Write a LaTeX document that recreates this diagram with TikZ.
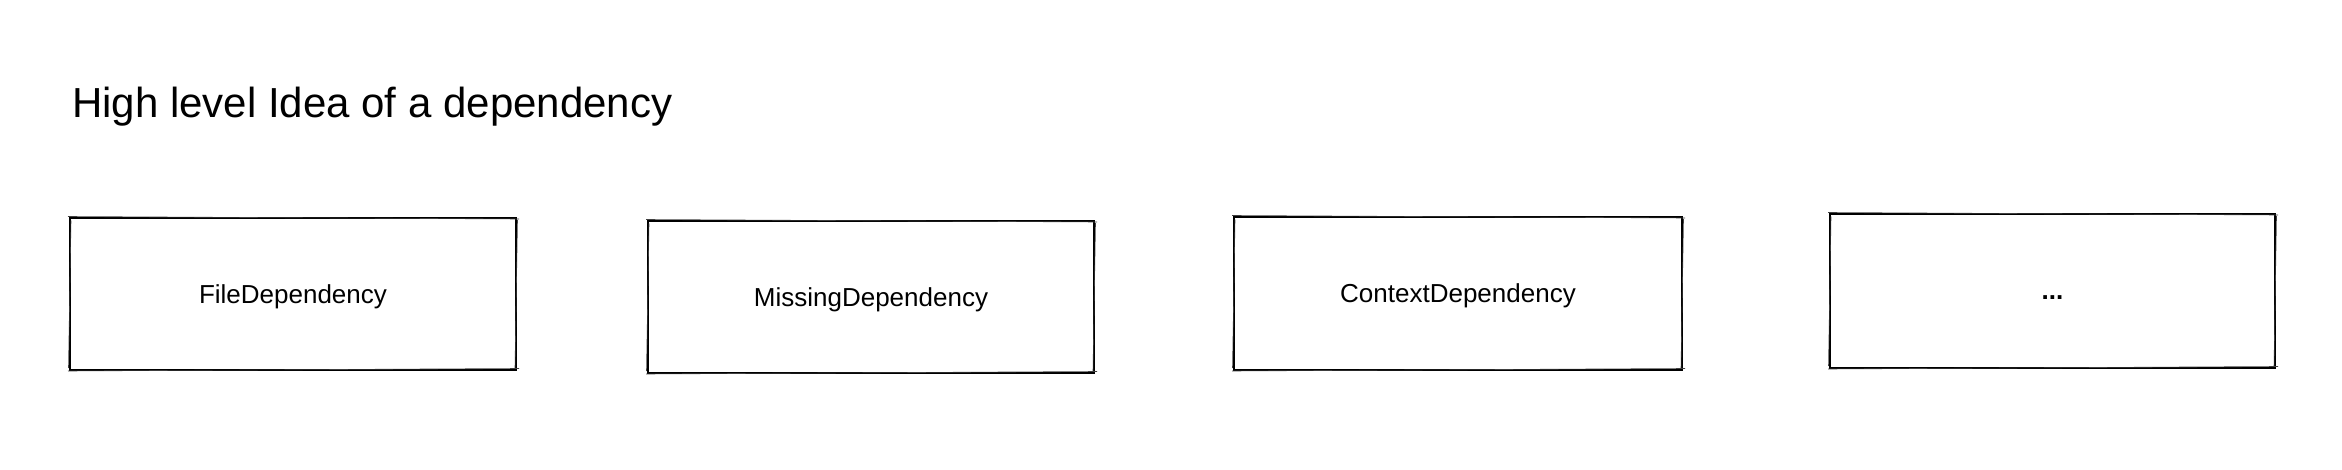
\documentclass[tikz,border=0pt]{standalone}
\usepackage{fontspec}
\setmainfont{Liberation Sans}
\begin{document}
\begin{tikzpicture}[x=1pt,y=-1pt,
  sketchbox/.style={draw=black, line width=1.3pt, rectangle, inner sep=0pt, outer sep=0pt,
    text height=22pt, text depth=4pt, font=\fontsize{26}{30}\selectfont},
  sketchline/.style={draw=black!75, line width=0.6pt},
  titletext/.style={font=\fontsize{42}{48}\selectfont, inner sep=0pt, anchor=base west}]
\fill[white] (0,0) rectangle (2342,470);
\useasboundingbox (0,0) rectangle (2342,470);
\node[titletext] (title) at (72,118) {High level Idea of a dependency};
\node[sketchbox, minimum width=446pt, minimum height=152pt] (file) at (293,294) {FileDependency};
\node[sketchbox, minimum width=446pt, minimum height=152pt] (missing) at (871,297) {MissingDependency};
\node[sketchbox, minimum width=448pt, minimum height=153pt] (context) at (1458,293.5) {ContextDependency};
\node[sketchbox, minimum width=445pt, minimum height=154pt] (more) at (2052.5,291) {\textbf{...}};
% second sketchy strokes
\foreach \n in {file,missing,context,more}{
  \draw[sketchline] ([shift={(-2pt,1.5pt)}]\n.north west) -- ([shift={(3pt,-1pt)}]\n.north east);
  \draw[sketchline] ([shift={(1.5pt,-2pt)}]\n.north east) -- ([shift={(-1pt,2pt)}]\n.south east);
  \draw[sketchline] ([shift={(3pt,1.5pt)}]\n.south east) -- ([shift={(-2pt,-1pt)}]\n.south west);
  \draw[sketchline] ([shift={(-1.5pt,2pt)}]\n.south west) -- ([shift={(1pt,-2.5pt)}]\n.north west);
}
\end{tikzpicture}
\end{document}
